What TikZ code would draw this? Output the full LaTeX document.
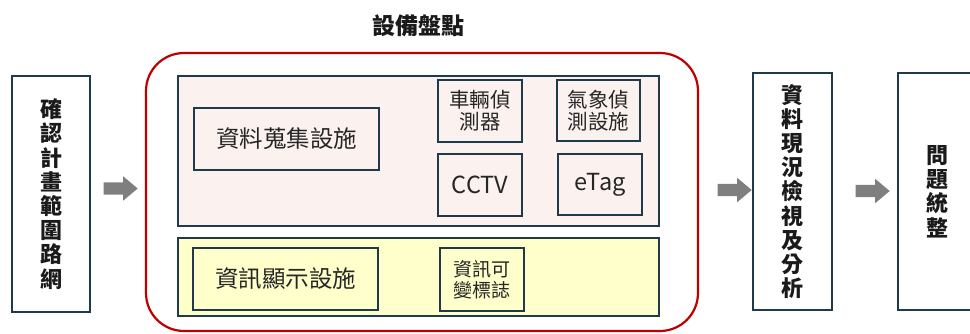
\documentclass[tikz,border=0pt]{standalone}
\usepackage{fontspec}
\setmainfont{Noto Sans CJK TC}
\usetikzlibrary{shapes.arrows}
\definecolor{edgecol}{HTML}{1F3A4B}
\definecolor{pinkfill}{HTML}{FBF1EE}
\definecolor{yellowfill}{HTML}{FFFFCC}
\definecolor{redline}{HTML}{C00000}
\definecolor{arrowgray}{HTML}{7F7F7F}
\definecolor{txt}{HTML}{1A1A1A}
\definecolor{itemtxt}{HTML}{262626}
\begin{document}
\begin{tikzpicture}[x=1pt,y=-1pt,
  box/.style={draw=edgecol,line width=1.8pt,inner sep=0pt,align=center,text=itemtxt},
  stepbox/.style={box,fill=white,text=txt,font=\bfseries\fontsize{22}{24.2}\selectfont},
  panel/.style={draw=edgecol,line width=1.2pt,inner sep=0pt},
  bigitem/.style={box,font=\fontsize{23.5}{26}\selectfont},
  smallitem/.style={box,font=\fontsize{20.5}{22}\selectfont},
  tinyitem/.style={box,font=\fontsize{19}{21}\selectfont},
  blockarrow/.style={single arrow,fill=arrowgray,draw=none,inner xsep=0pt,inner ysep=6pt,
    single arrow head extend=6pt,single arrow tip angle=80,minimum height=34pt}
]
\useasboundingbox (0,0) rectangle (970,333);
\clip (0,0) rectangle (970,333);

% title
\node[font=\bfseries\fontsize{23}{25}\selectfont,text=txt] (title) at (418,26) {設備盤點};

% red group
\node[draw=redline,line width=2.2pt,rounded corners=38pt,minimum width=552pt,minimum height=278pt,inner sep=0pt] (group) at (422,192) {};

% panels
\node[panel,fill=pinkfill,minimum width=481pt,minimum height=150pt] (collect) at (418.5,151) {};
\node[panel,fill=yellowfill,minimum width=481pt,minimum height=78pt] (display) at (418.5,277) {};

% items
\node[bigitem,minimum width=185pt,minimum height=62pt] (dcf) at (286.5,139) {資料蒐集設施};
\node[smallitem,minimum width=84pt,minimum height=62pt] (vd) at (480,111) {車輛偵\\測器};
\node[smallitem,minimum width=83pt,minimum height=61pt] (wx) at (598.5,110.5) {氣象偵\\測設施};
\node[bigitem,minimum width=84pt,minimum height=62pt] (cctv) at (480,185) {CCTV};
\node[bigitem,minimum width=84pt,minimum height=61pt] (etag) at (600,184.5) {eTag};
\node[bigitem,minimum width=185pt,minimum height=62pt] (idf) at (285.5,279) {資訊顯示設施};
\node[tinyitem,minimum width=84pt,minimum height=63pt] (cms) at (482,279.5) {資訊可\\變標誌};

% steps
\node[stepbox,minimum width=78pt,minimum height=236pt] (s1) at (51,194) {確\\認\\計\\畫\\範\\圍\\路\\網};
\node[stepbox,minimum width=79pt,minimum height=237pt] (s3) at (792.5,191.5) {資\\料\\現\\況\\檢\\視\\及\\分\\析};
\node[stepbox,minimum width=78pt,minimum height=237pt] (s4) at (937,191.5) {問\\題\\統\\整};

% block arrows
\node[blockarrow] (a1) at (117,188.5) {};
\node[blockarrow] (a2) at (731,190) {};
\node[blockarrow] (a3) at (869,191) {};
\end{tikzpicture}
\end{document}
